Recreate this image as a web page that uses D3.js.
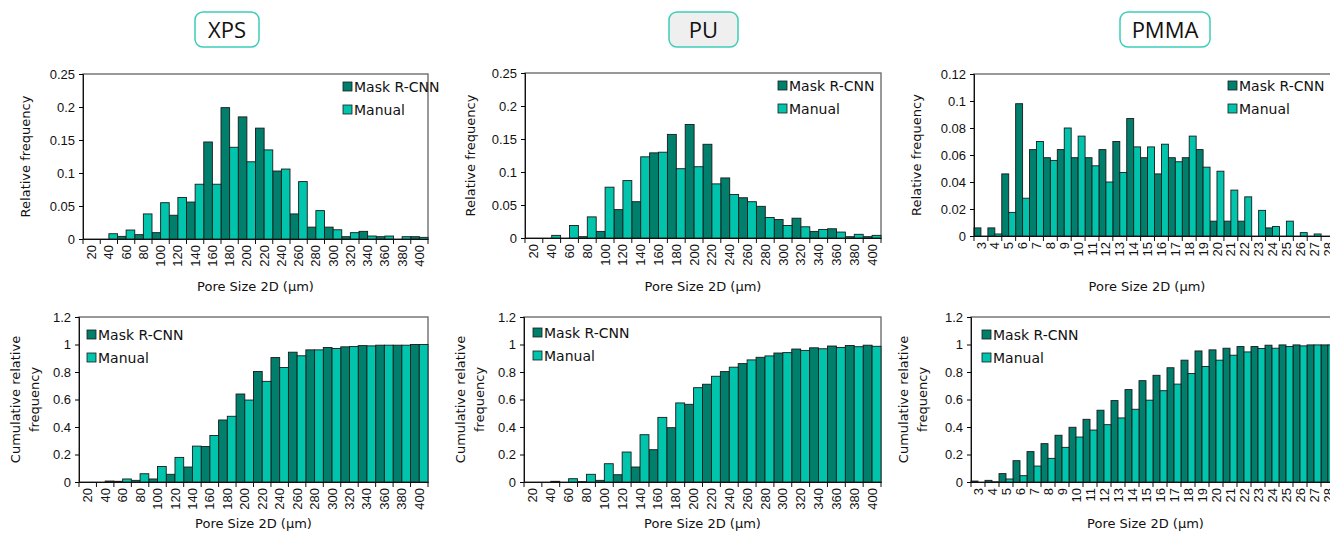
<!DOCTYPE html>
<html>
<head>
<meta charset="utf-8">
<script src="https://cdn.jsdelivr.net/npm/d3@7/dist/d3.min.js"></script>
<style>
  body { margin: 0; background: #fff; }
  svg { display: block; font-family: "DejaVu Sans", Verdana, sans-serif; }
</style>
</head>
<body>
<svg id="chart" width="1330" height="538"></svg>
<script>
//DATA
//tick labels (bin centres)
const umBins = [20, 40, 60, 80, 100, 120, 140, 160, 180, 200, 220, 240, 260, 280, 300, 320, 340, 360, 380, 400];
const pmmaBins = [3, 4, 5, 6, 7, 8, 9, 10, 11, 12, 13, 14, 15, 16, 17, 18, 19, 20, 21, 22, 23, 24, 25, 26, 27, 28];

//relative frequency
const xpsMask   = [0, 0, 0.004, 0.0066, 0.0096, 0.036, 0.056, 0.147, 0.199, 0.185, 0.168, 0.103, 0.038, 0.018, 0.018, 0.0035, 0.0116, 0.0035, 0, 0.0035];
const xpsManual = [0, 0.008, 0.0136, 0.038, 0.055, 0.063, 0.083, 0.083, 0.139, 0.117, 0.135, 0.106, 0.087, 0.043, 0.014, 0.0096, 0.0045, 0.0045, 0.0035, 0.0025];
const puMask    = [0, 0, 0, 0.002, 0.010, 0.043, 0.055, 0.129, 0.157, 0.172, 0.142, 0.091, 0.061, 0.048, 0.028, 0.030, 0.010, 0.014, 0.002, 0.002];
const puManual  = [0, 0.004, 0.019, 0.032, 0.077, 0.087, 0.123, 0.130, 0.105, 0.108, 0.082, 0.066, 0.055, 0.031, 0.019, 0.017, 0.013, 0.009, 0.0056, 0.004];
const pmmaMask  = [0.006, 0.006, 0.046, 0.098, 0.064, 0.058, 0.064, 0.058, 0.058, 0.064, 0.070, 0.087, 0.058, 0.046, 0.058, 0.058, 0.064, 0.011, 0.011, 0.011, 0, 0.006, 0, 0, 0, 0];
const pmmaManual= [0, 0.0015, 0.0175, 0.028, 0.070, 0.056, 0.080, 0.074, 0.052, 0.040, 0.047, 0.066, 0.066, 0.068, 0.055, 0.074, 0.051, 0.048, 0.034, 0.029, 0.019, 0.007, 0.011, 0.0025, 0.0015, 0];

//cumulative relative frequency
const xpsMaskCum   = [0, 0, 0.005, 0.012, 0.022, 0.056, 0.109, 0.258, 0.451, 0.640, 0.804, 0.905, 0.944, 0.961, 0.978, 0.983, 0.992, 0.995, 0.995, 1.0];
const xpsManualCum = [0, 0.007, 0.022, 0.060, 0.113, 0.179, 0.261, 0.338, 0.478, 0.596, 0.732, 0.833, 0.918, 0.961, 0.971, 0.985, 0.990, 0.995, 0.995, 1.0];
const puMaskCum    = [0, 0, 0, 0.003, 0.012, 0.053, 0.109, 0.235, 0.395, 0.565, 0.711, 0.803, 0.861, 0.907, 0.938, 0.967, 0.976, 0.989, 0.993, 0.995];
const puManualCum  = [0, 0.005, 0.024, 0.056, 0.133, 0.218, 0.344, 0.470, 0.575, 0.686, 0.769, 0.835, 0.888, 0.917, 0.941, 0.957, 0.969, 0.979, 0.984, 0.987];
const pmmaMaskCum  = [0.007, 0.012, 0.061, 0.155, 0.221, 0.279, 0.340, 0.398, 0.456, 0.522, 0.592, 0.672, 0.737, 0.776, 0.831, 0.886, 0.953, 0.961, 0.973, 0.985, 0.985, 0.995, 0.997, 0.997, 0.997, 0.997];
const pmmaManualCum= [0, 0.0015, 0.022, 0.046, 0.116, 0.172, 0.252, 0.327, 0.378, 0.417, 0.466, 0.529, 0.595, 0.664, 0.712, 0.789, 0.840, 0.886, 0.922, 0.946, 0.971, 0.973, 0.985, 0.990, 0.997, 0.997];

const seriesNames = ["Mask R-CNN", "Manual"];
const materials = ["XPS", "PU", "PMMA"];

//STYLE
const darkTeal = "#007f6c";
const lightTeal = "#00c4ab";
const svg = d3.select("#chart");

//title boxes
const titles = [
    { name: "XPS",  x: 195,  w: 64, fill: "#ffffff" },
    { name: "PU",   x: 669,  w: 69, fill: "#efefef" },
    { name: "PMMA", x: 1120, w: 90, fill: "#ffffff" }
];
titles.forEach(function (t, i) {
    svg.append("rect")
        .attr("x", t.x).attr("y", 12)
        .attr("width", t.w).attr("height", 35)
        .attr("rx", 8)
        .attr("fill", t.fill)
        .attr("stroke", "#3ccdb9")
        .attr("stroke-width", 1.5);
    svg.append("text")
        .attr("x", t.x + t.w / 2).attr("y", 38)
        .attr("text-anchor", "middle")
        .style("font-family", "'Open Sans', sans-serif")
        .style("font-size", "22px")
        .attr("fill", "#111")
        .text(materials[i]);
});

//panels
const panels = [
    { bins: umBins, a: xpsMask, b: xpsManual, l: 83, r: 428, t: 74, bt: 239, max: 0.25, step: 0.05, ylab: ["Relative frequency"], ylx: [30], leg: [343, 82], xlab: 291 },
    { bins: umBins, a: puMask, b: puManual, l: 525, r: 881, t: 73, bt: 238, max: 0.25, step: 0.05, ylab: ["Relative frequency"], ylx: [475], leg: [778, 81], xlab: 291 },
    { bins: pmmaBins, a: pmmaMask, b: pmmaManual, l: 974, r: 1335, t: 74, bt: 236, max: 0.12, step: 0.02, ylab: ["Relative frequency"], ylx: [921], leg: [1228, 81], xlab: 291 },
    { bins: umBins, a: xpsMaskCum, b: xpsManualCum, l: 79, r: 428, t: 317, bt: 482, max: 1.2, step: 0.2, ylab: ["Cumulative relative", "frequency"], ylx: [20, 39], leg: [87, 330], xlab: 528 },
    { bins: umBins, a: puMaskCum, b: puManualCum, l: 524, r: 881, t: 317, bt: 482, max: 1.2, step: 0.2, ylab: ["Cumulative relative", "frequency"], ylx: [465, 484], leg: [533, 328], xlab: 528 },
    { bins: pmmaBins, a: pmmaMaskCum, b: pmmaManualCum, l: 971, r: 1335, t: 317, bt: 482, max: 1.2, step: 0.2, ylab: ["Cumulative relative", "frequency"], ylx: [908, 927], leg: [982, 330], xlab: 528 }
];

panels.forEach(drawPanel);

function drawPanel(p) {
    let g = svg.append("g");
    let x = d3.scaleBand().domain(p.bins).range([p.l, p.r]).padding(0);
    let y = d3.scaleLinear().domain([0, p.max]).range([p.bt, p.t]);
    let half = x.bandwidth() / 2;

    //plot frame
    g.append("rect")
        .attr("x", p.l).attr("y", p.t)
        .attr("width", p.r - p.l).attr("height", p.bt - p.t)
        .attr("fill", "none")
        .attr("stroke", "#6e6e6e")
        .attr("stroke-width", 1.4);

    //bars, Mask R-CNN left half, Manual right half
    [p.a, p.b].forEach(function (vals, s) {
        g.selectAll(null)
            .data(vals.map((v, i) => ({ bin: p.bins[i], v: v })).filter(d => d.v > 0))
            .enter()
            .append("rect")
            .attr("x", d => x(d.bin) + s * half)
            .attr("y", d => y(d.v))
            .attr("width", half)
            .attr("height", d => p.bt - y(d.v))
            .attr("fill", s == 0 ? darkTeal : lightTeal)
            .attr("stroke", "#1a1a1a")
            .attr("stroke-width", 0.9);
    });

    //y axis
    let nTicks = Math.round(p.max / p.step);
    let yTicks = d3.range(nTicks + 1).map(k => +(k * p.step).toFixed(3));
    let yAxis = g.append("g")
        .attr("transform", "translate(" + p.l + ",0)")
        .call(d3.axisLeft(y).tickValues(yTicks).tickSize(4).tickPadding(4).tickFormat(d => String(d)));
    yAxis.selectAll("text").style("font-size", "13px").attr("fill", "#111");
    yAxis.select(".domain").attr("stroke", "#111");

    //x axis, ticks on bin borders
    let xAxis = g.append("g")
        .attr("transform", "translate(0," + p.bt + ")")
        .call(d3.axisBottom(x).tickSize(0).tickPadding(6));
    xAxis.select(".domain").attr("stroke", "#111");
    xAxis.selectAll("text")
        .style("font-size", "13px")
        .attr("fill", "#111")
        .attr("text-anchor", "end")
        .attr("dy", "0.35em")
        .attr("transform", "rotate(-90)")
        .attr("x", -6).attr("y", 0);
    g.selectAll(null)
        .data(p.bins.concat(["end"]))
        .enter()
        .append("line")
        .attr("x1", (d, i) => p.l + i * x.bandwidth())
        .attr("x2", (d, i) => p.l + i * x.bandwidth())
        .attr("y1", p.bt).attr("y2", p.bt + 5)
        .attr("stroke", "#111");

    //axis titles
    g.append("text")
        .attr("x", (p.l + Math.min(p.r, 1330)) / 2 + (p.r > 1330 ? -5 : 0))
        .attr("y", p.xlab)
        .attr("text-anchor", "middle")
        .style("font-size", "13px")
        .attr("fill", "#111")
        .text("Pore Size 2D (µm)");
    p.ylab.forEach(function (lab, i) {
        g.append("text")
            .attr("transform", "translate(" + p.ylx[i] + "," + ((p.t + p.bt) / 2) + ") rotate(-90)")
            .attr("text-anchor", "middle")
            .style("font-size", "13px")
            .attr("fill", "#111")
            .text(lab);
    });

    //legend
    seriesNames.forEach(function (name, i) {
        g.append("rect")
            .attr("x", p.leg[0]).attr("y", p.leg[1] + i * 23)
            .attr("width", 9).attr("height", 9)
            .attr("fill", i == 0 ? darkTeal : lightTeal)
            .attr("stroke", "#1a1a1a").attr("stroke-width", 0.8);
        g.append("text")
            .attr("x", p.leg[0] + 11).attr("y", p.leg[1] + 10 + i * 23)
            .style("font-size", "14px")
            .attr("fill", "#111")
            .text(name);
    });
}
</script>
</body>
</html>
